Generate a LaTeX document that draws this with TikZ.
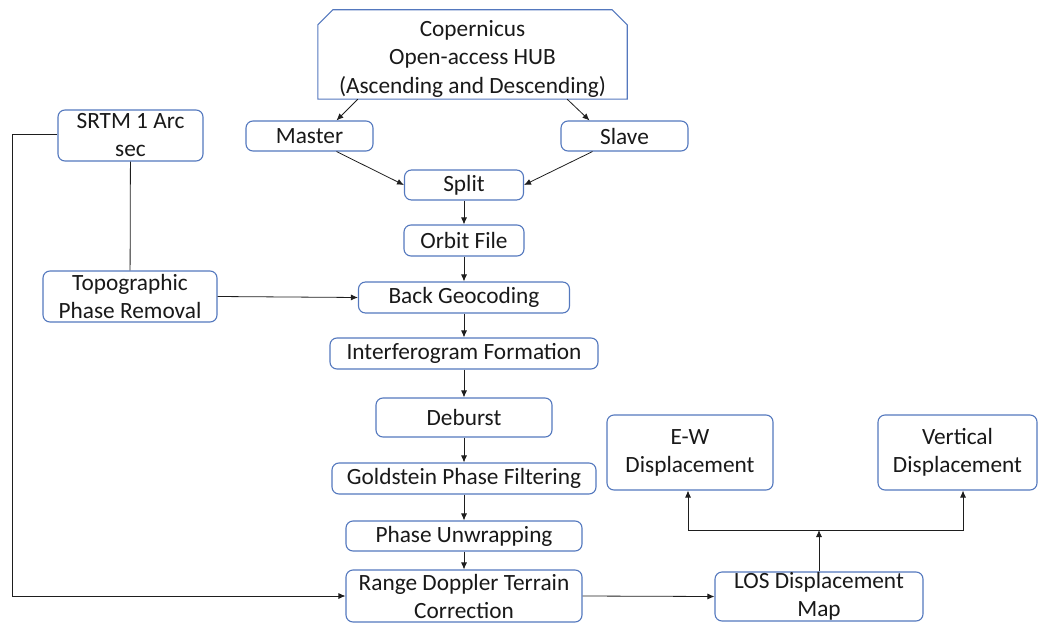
\documentclass[tikz,border=0pt]{standalone}
\usepackage{fontspec}
\setmainfont{Carlito}
\usetikzlibrary{arrows.meta,calc}
\definecolor{bordc}{RGB}{84,120,190}
\definecolor{linec}{RGB}{30,30,30}
\definecolor{textc}{RGB}{25,25,25}
\begin{document}
\begin{tikzpicture}[x=1pt,y=-1pt,
  box/.style={draw=bordc, line width=1.1pt, rounded corners=7pt, fill=white, text=textc,
    align=center, inner sep=0pt, font=\fontsize{23.3}{28}\selectfont},
  plain/.style={align=center, inner sep=0pt, text=textc, font=\fontsize{23.3}{28.5}\selectfont},
  arr/.style={-{Latex[length=7pt,width=6pt]}, line width=0.8pt, draw=linec},
  ln/.style={line width=0.8pt, draw=linec}]
\useasboundingbox (0,0) rectangle (1038,623);
% top hub (text sits slightly low in the box)
\node[plain, minimum width=309, minimum height=89] (hub) at (472.5,58.5)
  {Copernicus\\Open-access HUB\\(Ascending and Descending)};
\coordinate (hnw) at ($(hub.north west)+(0,-4)$);
\coordinate (hne) at ($(hub.north east)+(0,-4)$);
\coordinate (hsw) at ($(hub.south west)+(0,-4)$);
\coordinate (hse) at ($(hub.south east)+(0,-4)$);
\draw[draw=bordc, line width=1.1pt]
  (hsw) -- ($(hnw)+(0,15)$) -- ($(hnw)+(15,0)$)
  -- ($(hne)+(-15,0)$) -- ($(hne)+(0,15)$) -- (hse) -- cycle;
\node[box, minimum width=145, minimum height=51] (srtm) at (130.5,135.5) {SRTM 1 Arc\\sec};
\node[box, minimum width=127, minimum height=30] (master) at (309.5,136) {Master};
\node[box, minimum width=127, minimum height=30] (slave) at (624.5,136) {Slave};
\node[box, minimum width=119, minimum height=30] (split) at (464,185) {Split};
\node[box, minimum width=120, minimum height=31] (orbit) at (464,240.5) {Orbit File};
\node[box, minimum width=174, minimum height=51] (topo) at (130,296.5) {Topographic\\Phase Removal};
\node[box, minimum width=211, minimum height=31] (back) at (464,297.5) {Back Geocoding};
\node[box, minimum width=268, minimum height=31] (interf) at (464,353.5) {Interferogram Formation};
\node[box, minimum width=176, minimum height=39] (deburst) at (464,417.5) {Deburst};
\node[box, minimum width=264, minimum height=31] (gold) at (464,478.5) {Goldstein Phase Filtering};
\node[box, minimum width=236, minimum height=30] (unwrap) at (464,536) {Phase Unwrapping};
\node[box, minimum width=236, minimum height=52] (rd) at (464,596) {Range Doppler Terrain\\Correction};
\node[box, minimum width=166, minimum height=75] (ew) at (690,452.5) {E-W\\Displacement};
\node[box, minimum width=159, minimum height=75] (vert) at (957.5,452.5) {Vertical\\Displacement};
\node[box, minimum width=208, minimum height=49] (los) at (819,596.5) {LOS Displacement\\Map};
% connectors
\draw[arr] ($(hsw)+(40,0)$) -- ($(master.north)+(27,0)$);
\draw[arr] ($(hse)+(-60,0)$) -- ($(slave.north)+(-35,0)$);
\draw[arr] ($(master.south)+(27,0)$) -- (split.west);
\draw[arr] ($(slave.south)+(-32,0)$) -- (split.east);
\draw[arr] (split) -- (orbit);
\draw[arr] (orbit) -- (back);
\draw[arr] (back) -- (interf);
\draw[arr] (interf) -- (deburst);
\draw[arr] (deburst) -- (gold);
\draw[arr] (gold) -- (unwrap);
\draw[arr] (unwrap) -- (rd);
\draw[ln] (srtm) -- (topo);
\draw[arr] (topo.east) -- (back.west);
\coordinate (lc) at (12,134);
\draw[arr] ($(srtm.west)+(0,-1.5)$) -- (lc) |- (rd.west);
\draw[arr] (rd.east) -- (los.west);
\coordinate (j) at (819,530);
\draw[arr] (los.north) -- (j);
\draw[arr] (j) -| ($(ew.south)+(-2,0)$);
\draw[arr] (j) -| ($(vert.south)+(5.5,0)$);
\end{tikzpicture}
\end{document}
